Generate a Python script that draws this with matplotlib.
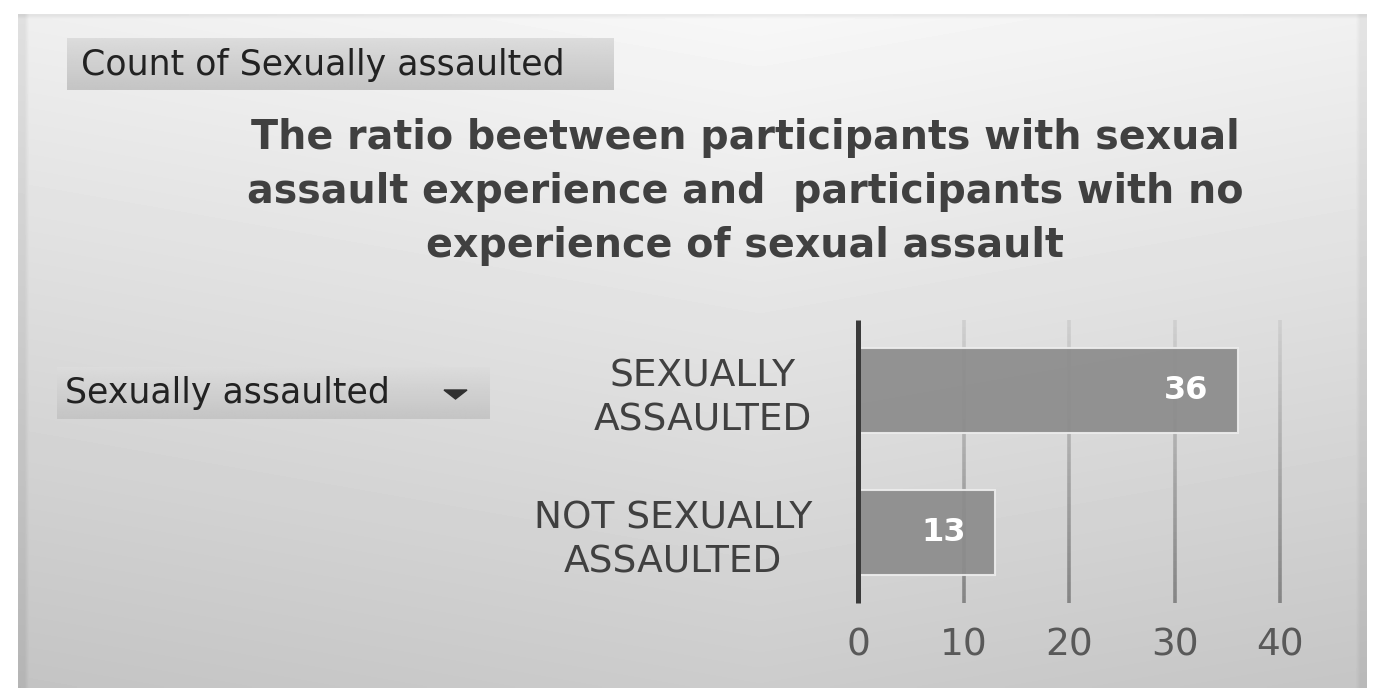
import numpy as np
import matplotlib
matplotlib.use('Agg')
import matplotlib.pyplot as plt
from matplotlib.collections import LineCollection
from matplotlib.patches import Polygon

# data
categories = ['NOT SEXUALLY\nASSAULTED', 'SEXUALLY\nASSAULTED']
counts = [13, 36]
x_ticks = [0, 10, 20, 30, 40]
title = ('The ratio beetween participants with sexual\n'
         'assault experience and  participants with no\n'
         'experience of sexual assault')
field_label = 'Count of Sexually assaulted'
filter_label = 'Sexually assaulted'

W, H = 1382, 688
TXT = '#404040'

fig = plt.figure(figsize=(W / 100, H / 100), dpi=100, facecolor='white')

# full-figure overlay in pixel coords for the pivot-chart frame
bg = fig.add_axes([0, 0, 1, 1], zorder=0)
bg.set_xlim(0, W)
bg.set_ylim(H, 0)
bg.axis('off')

# panel gradient
px0, px1, py0, py1 = 18, 1367, 14, 688
yy, xx = np.mgrid[0:1:200j, 0:1:300j]
shade = 0.97 - 0.17 * yy - 0.06 * np.abs(xx - 0.55)
shade[:, :2] -= 0.06
shade[:, -2:] -= 0.05
shade[:1, :] -= 0.05
bg.imshow(shade, cmap='gray', vmin=0, vmax=1, aspect='auto',
          extent=(px0, px1, py1, py0), interpolation='bilinear', zorder=0)


def button(x0, y0, x1, y1):
    g = np.linspace(0.86, 0.77, 50)[:, None] * np.ones((1, 10))
    bg.imshow(g, cmap='gray', vmin=0, vmax=1, aspect='auto',
              extent=(x0, x1, y1, y0), zorder=1)


button(67, 38, 614, 90)
bg.text(81, 65, field_label, fontsize=25, color='#222222',
        va='center', ha='left', zorder=2)

button(57, 367, 490, 419)
bg.text(65, 393, filter_label, fontsize=25, color='#222222',
        va='center', ha='left', zorder=2)
bg.add_patch(Polygon([(444, 390), (467, 390), (455.5, 399)], closed=True,
                     color='#303030', zorder=2))

bg.text(745, 192, title, fontsize=28.5, fontweight='bold', color=TXT,
        ha='center', va='center', linespacing=1.45, zorder=2)

# chart
ax = fig.add_axes([858 / W, 1 - 603 / H, (1280 - 858) / W, (603 - 320) / H],
                  zorder=1)
ax.patch.set_alpha(0)
ax.set_xlim(0, 40)
ax.set_ylim(-0.5, 1.5)

# gradient gridlines
segs, cols = [], []
edges = np.linspace(-0.5, 1.5, 41)
for xv in x_ticks[1:]:
    for a, b in zip(edges[:-1], edges[1:]):
        segs.append([(xv, a), (xv, b)])
        t = 1 - (a + 0.5) / 2
        c = 0.82 - 0.30 * t
        cols.append((c, c, c))
grid = LineCollection(segs, colors=cols, linewidths=2.6, zorder=1)
grid.set_clip_on(False)
ax.add_collection(grid)

y = np.arange(len(categories))
bars = ax.barh(y, counts, height=0.6, color='#8c8c8c', alpha=0.93,
               edgecolor='#ececec', linewidth=1.5, zorder=2)
for b, v in zip(bars, counts):
    ax.annotate(str(v), (b.get_width(), b.get_y() + b.get_height() / 2),
                xytext=(-21, 0), textcoords='offset points',
                ha='right', va='center', color='white', fontweight='bold',
                fontsize=23)

ax.set_yticks(y)
ax.set_yticklabels(categories, fontsize=27, color=TXT,
                   multialignment='center', linespacing=1.28)
ax.set_xticks(x_ticks)
ax.set_xticklabels([str(t) for t in x_ticks], fontsize=27, color='#595959')
ax.tick_params(axis='y', length=0, pad=33)
ax.tick_params(axis='x', length=0, pad=18)

for s in ['top', 'right', 'bottom']:
    ax.spines[s].set_visible(False)
ax.spines['left'].set_color('#3a3a3a')
ax.spines['left'].set_linewidth(3.6)
ax.spines['left'].set_capstyle('butt')
ax.spines['left'].set_zorder(3)

fig.savefig('out.png', dpi=100, facecolor='white')
